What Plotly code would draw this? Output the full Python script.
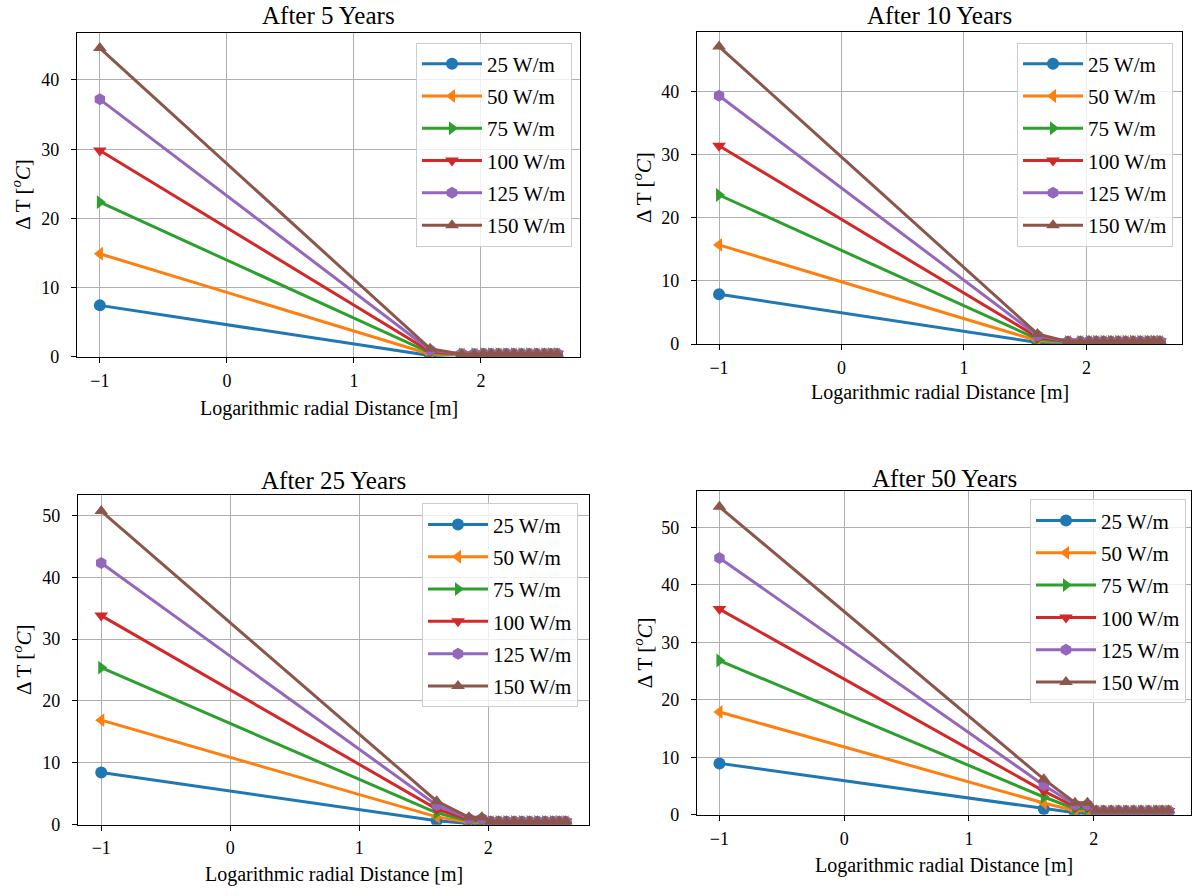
import plotly.graph_objects as go

# ---------------- data ----------------
x_log = [-1, 1.6, 1.85, 1.95, 2.02, 2.08, 2.14, 2.2, 2.26, 2.32, 2.38, 2.44, 2.5, 2.55, 2.6]
labels = ["25 W/m", "50 W/m", "75 W/m", "100 W/m", "125 W/m", "150 W/m"]
titles = ["After 5 Years", "After 10 Years", "After 25 Years", "After 50 Years"]

# per-panel values at x=-1, 1.6, 1.85/1.95 for each series; far field value
p5_start = [7.45, 14.9, 22.35, 29.8, 37.2, 44.6]
p5_mid = [0.2, 0.4, 0.6, 0.8, 1.0, 1.2]
p5_near = [0.35, 0.35, 0.4, 0.4, 0.4, 0.4]
p5_far = [0.35, 0.35, 0.4, 0.45, 0.45, 0.45]

p10_start = [7.9, 15.7, 23.6, 31.4, 39.3, 47.1]
p10_mid = [0.27, 0.54, 0.81, 1.08, 1.35, 1.62]
p10_near = [0.3, 0.35, 0.35, 0.4, 0.4, 0.4]
p10_far = [0.35, 0.35, 0.4, 0.45, 0.45, 0.45]

p25_start = [8.45, 16.9, 25.4, 33.8, 42.3, 50.7]
p25_mid = [0.63, 1.26, 1.9, 2.53, 3.16, 3.8]
p25_near = [0.2, 0.4, 0.6, 0.8, 1.0, 1.2]
p25_far = [0.4, 0.4, 0.45, 0.5, 0.5, 0.5]

p50_start = [8.95, 17.9, 26.85, 35.8, 44.7, 53.6]
p50_mid = [1.03, 2.06, 3.1, 4.13, 5.16, 6.2]
p50_near = [0.35, 0.7, 1.05, 1.4, 1.75, 2.1]
p50_far = [0.5, 0.55, 0.6, 0.65, 0.7, 0.75]

panels = [
    (p5_start, p5_mid, p5_near, p5_far),
    (p10_start, p10_mid, p10_near, p10_far),
    (p25_start, p25_mid, p25_near, p25_far),
    (p50_start, p50_mid, p50_near, p50_far),
]

colors = ["#1f77b4", "#ff7f0e", "#2ca02c", "#d62728", "#9467bd", "#8c564b"]
symbols = ["circle", "triangle-left", "triangle-right", "triangle-down", "hexagon", "triangle-up"]

W, H = 1196, 896
# plot boxes in pixels: left, right, top, bottom
boxes = [(77, 580, 33, 361), (697, 1182, 32, 348), (78, 589, 501, 834), (697, 1191, 497, 824)]
legend_pos = [(572, 43), (1173, 43), (578, 509), (1186, 505)]
title_y = [16, 16, 486, 484]
xlabel_y = [413, 397, 884, 875]
ylabel_x = [22, 643, 22, 643]

FONT = "Liberation Serif"
fig = go.Figure()
layout = {}
annotations = []

for i, (start, mid, near, far) in enumerate(panels):
    ax = "" if i == 0 else str(i + 1)
    leg = "legend" if i == 0 else f"legend{i + 1}"
    ymax = max(start) * 1.05
    for k in range(6):
        y = [start[k], mid[k], near[k], near[k]] + [far[k]] * (len(x_log) - 4)
        fig.add_trace(go.Scatter(
            x=x_log, y=y, mode="lines+markers", name=labels[k],
            line=dict(color=colors[k], width=3),
            marker=dict(symbol=symbols[k], size=12, color=colors[k]),
            xaxis="x" + ax, yaxis="y" + ax, legend=leg,
            legendgroup=f"g{i}_{k}", cliponaxis=True,
        ))
    l, r, t, b = boxes[i]
    layout["xaxis" + ax] = dict(
        domain=[l / W, r / W], anchor="y" + ax, range=[-1.18, 2.78],
        tickvals=[-1, 0, 1, 2], ticktext=["\u22121", "0", "1", "2"],
        showline=True, mirror=True, linecolor="black", linewidth=1.2,
        ticks="outside", ticklen=5, tickcolor="black", ticklabelstandoff=2,
        showgrid=True, gridcolor="#b0b0b0", gridwidth=1, zeroline=False,
        tickfont=dict(family=FONT, size=18, color="black"),
    )
    layout["yaxis" + ax] = dict(
        domain=[1 - b / H, 1 - t / H], anchor="x" + ax, range=[0, ymax],
        dtick=10, showline=True, mirror=True, linecolor="black", linewidth=1.2,
        ticks="outside", ticklen=5, tickcolor="black", ticklabelstandoff=8,
        showgrid=True, gridcolor="#b0b0b0", gridwidth=1, zeroline=False,
        tickfont=dict(family=FONT, size=18, color="black"),
    )
    lx, ly = legend_pos[i]
    layout[leg] = dict(
        x=lx / W, y=1 - ly / H, xanchor="right", yanchor="top",
        xref="paper", yref="paper",
        bgcolor="rgba(255,255,255,0.8)", bordercolor="#cccccc", borderwidth=1,
        font=dict(family=FONT, size=21, color="black"), tracegroupgap=2,
        itemwidth=60,
    )
    cx = (l + r) / 2
    annotations.append(dict(text=titles[i], x=cx / W, y=1 - title_y[i] / H,
                            xref="paper", yref="paper", showarrow=False,
                            xanchor="center", yanchor="middle",
                            font=dict(family=FONT, size=25, color="black")))
    annotations.append(dict(text="Logarithmic radial Distance [m]", x=cx / W,
                            y=1 - xlabel_y[i] / H, xref="paper", yref="paper", showarrow=False,
                            xanchor="center", yanchor="middle",
                            font=dict(family=FONT, size=20, color="black")))
    annotations.append(dict(text="\u0394 T [<i><sup>o</sup>C</i>]", x=ylabel_x[i] / W,
                            y=1 - ((t + b) / 2) / H, xref="paper", yref="paper",
                            showarrow=False, textangle=-90,
                            xanchor="center", yanchor="middle",
                            font=dict(family=FONT, size=21, color="black")))

fig.update_layout(
    width=W, height=H, margin=dict(l=0, r=0, t=0, b=0),
    paper_bgcolor="white", plot_bgcolor="white",
    annotations=annotations, **layout,
)
fig.write_html("out.html")
